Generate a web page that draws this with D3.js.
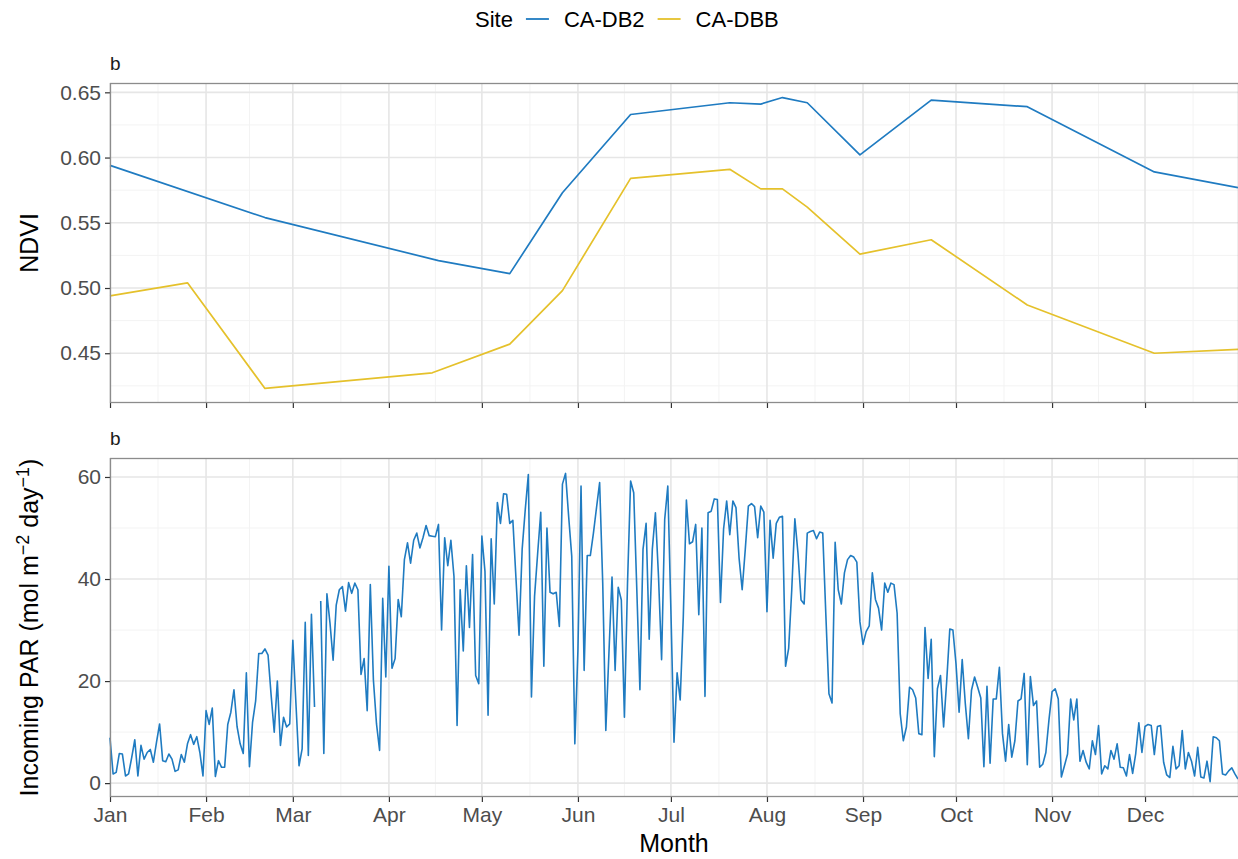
<!DOCTYPE html>
<html>
<head>
<meta charset="utf-8">
<script src="https://cdn.jsdelivr.net/npm/d3@7"></script>
<style>
  body { margin: 0; background: #fff; }
  svg { display: block; font-family: "Liberation Sans", Arial, Helvetica, sans-serif; }
</style>
</head>
<body>
<svg id="chart" width="1238" height="859"></svg>
<script>
// ---- data -------------------------------------------------------------
const monthLabels = ["Jan", "Feb", "Mar", "Apr", "May", "Jun", "Jul", "Aug", "Sep", "Oct", "Nov", "Dec"];
const siteNames = ["CA-DB2", "CA-DBB"];
const siteColors = ["#1f7bc1", "#e5c12b"];

// NDVI composites, CA-DB2
const db2Dates = ["2019-01-01", "2019-02-20", "2019-04-17", "2019-05-10", "2019-05-27", "2019-06-18",
  "2019-07-20", "2019-07-30", "2019-08-06", "2019-08-14", "2019-08-31", "2019-09-23", "2019-10-24",
  "2019-12-04", "2019-12-31"];
const db2Ndvi = [0.594, 0.554, 0.521, 0.511, 0.573, 0.633, 0.642, 0.641, 0.646, 0.642, 0.602, 0.644,
  0.639, 0.589, 0.577];

// NDVI composites, CA-DBB
const dbbDates = ["2019-01-01", "2019-01-26", "2019-02-20", "2019-04-15", "2019-05-10", "2019-05-27",
  "2019-06-18", "2019-07-20", "2019-07-30", "2019-08-06", "2019-08-14", "2019-08-31", "2019-09-23",
  "2019-10-24", "2019-12-04", "2019-12-31"];
const dbbNdvi = [0.494, 0.504, 0.423, 0.435, 0.457, 0.498, 0.584, 0.591, 0.576, 0.576, 0.562, 0.526,
  0.537, 0.487, 0.450, 0.453];

const ndviTicks = [0.45, 0.50, 0.55, 0.60, 0.65];
const parTicks = [0, 20, 40, 60];

// Daily incoming PAR (mol m-2 day-1), CA-DB2, one value per day from 1 Jan (null = missing day)
const parStart = "2019-01-01";
const parDaily = [
  8.9, 1.8, 2.1, 5.8, 5.7, 1.4, 1.8, 5.0, 8.5, 1.4,
  7.4, 4.7, 6.0, 6.6, 4.1, 8.0, 11.6, 4.4, 4.2, 5.7,
  4.7, 2.3, 2.6, 5.6, 4.1, 7.7, 9.5, 7.6, 9.1, 6.0,
  1.4, 14.2, 11.5, 14.7, 1.3, 4.4, 3.1, 3.1, 11.5, 13.9,
  18.3, 11.1, 7.7, 5.8, 21.6, 3.2, 11.9, 16.1, 25.4, 25.4,
  26.3, 25.1, 17.2, 10.0, 20.0, 7.4, 12.9, 11.0, 11.6, 28.0,
  15.6, 3.4, 6.7, 31.5, 5.4, 33.1, 14.9, null, 35.7, 5.8,
  37.1, 31.3, 24.1, 34.9, 37.9, 38.5, 33.7, 39.3, 37.2, 39.2,
  37.9, 21.3, 24.4, 14.2, 38.9, 20.2, 11.6, 6.4, 36.2, 20.8,
  42.5, 22.5, 24.4, 36.0, 32.6, 43.8, 47.1, 43.1, 47.6, 49.0,
  46.1, 48.1, 50.5, 48.5, 48.4, 48.3, 50.7, 30.0, 48.1, 42.6,
  47.6, 40.5, 11.3, 37.9, 25.9, 42.6, 30.5, 44.8, 21.1, 19.5,
  48.4, 41.5, 13.3, 47.9, 35.1, 55.0, 50.9, 56.7, 56.6, 50.9,
  51.5, 40.2, 29.0, 45.8, 53.6, 60.5, 16.9, 36.6, 45.0, 53.1,
  22.9, 50.0, 37.4, 37.1, 37.4, 30.7, 58.6, 60.7, 52.3, 44.5,
  7.7, 26.1, 58.2, 22.1, 44.6, 44.6, 49.0, 54.0, 58.9, 39.2,
  10.3, 25.4, 40.4, 22.1, 38.4, 35.9, 12.9, 39.2, 59.2, 56.9,
  37.9, 18.3, 45.8, 50.9, 28.2, 45.8, 53.0, 40.5, 24.2, 51.7,
  58.2, 33.9, 8.0, 21.6, 16.3, 32.6, 55.5, 46.9, 47.3, 50.7,
  33.0, 50.0, 17.0, 53.0, 53.3, 55.7, 55.6, 35.4, 49.8, 55.3,
  48.7, 55.3, 54.0, 44.1, 37.9, 45.8, 54.3, 54.8, 54.2, 48.1,
  54.3, 53.1, 33.6, 51.5, 44.1, 50.9, 52.1, 52.3, 22.9, 26.4,
  37.9, 51.8, 45.1, 35.9, 35.1, 49.0, 49.3, 49.5, 47.9, 49.2,
  49.0, 33.0, 17.5, 15.7, 47.2, 37.9, 35.1, 41.2, 43.8, 44.6,
  44.3, 43.3, 31.6, 27.2, 29.7, 30.8, 41.2, 36.0, 34.3, 30.0,
  39.2, 37.4, 39.2, 38.9, 33.3, 13.6, 8.3, 11.0, 18.8, 18.3,
  16.7, 9.7, 9.5, 30.5, 20.5, 28.2, 5.2, 18.5, 21.1, 11.0,
  20.0, 30.2, 30.0, 23.4, 13.9, 24.2, 15.6, 8.7, 18.2, 20.8,
  18.8, 16.7, 3.2, 19.0, 3.9, 16.5, 16.5, 22.7, 9.7, 4.3,
  11.5, 5.1, 8.3, 16.1, 16.5, 21.5, 3.6, 20.9, 15.2, 16.1,
  3.1, 3.7, 6.0, 12.4, 17.9, 18.5, 16.5, 1.2, 3.4, 5.7,
  16.5, 12.4, 16.5, 4.3, 6.4, 4.1, 2.8, 8.3, 5.6, 11.3,
  1.8, 3.4, 2.8, 6.4, 4.7, 7.7, 3.1, 3.0, 1.4, 5.6,
  1.9, 5.8, 11.8, 6.0, 11.1, 11.5, 11.3, 5.6, 11.1, 11.3,
  4.1, 1.6, 1.1, 7.2, 2.8, 3.4, 10.3, 2.8, 6.0, 4.3,
  1.4, 7.0, 1.2, 1.0, 4.3, 0.3, 9.1, 8.9, 8.3, 1.8,
  1.6, 2.4, 3.0, 1.8, 0.8
];

// ---- layout -------------------------------------------------------------
const W = 1238, H = 859;
const plotLeft = 110, plotRight = 1238;
const panels = {
  ndvi: { top: 83, bottom: 403 },
  par: { top: 458, bottom: 797 }
};
const tickColor = "#4d4d4d";
const gridMajor = "#e6e6e6";
const gridMinor = "#f3f3f3";
const borderColor = "#8c8c8c";

const svg = d3.select("#chart");
const parseDate = d3.utcParse("%Y-%m-%d");

const year0 = parseDate("2019-01-01");
const yearEnd = parseDate("2019-12-31");
const x = d3.scaleUtc().domain([year0, yearEnd]).range([plotLeft, plotRight]);

const monthStarts = d3.utcMonths(year0, d3.utcDay.offset(yearEnd, 1));
const monthMinor = monthStarts.map(m => new Date((+m + +d3.utcMonth.offset(m, 1)) / 2))
  .filter(d => d <= yearEnd);

function padded(ext) {
  const r = ext[1] - ext[0];
  return [ext[0] - 0.05 * r, ext[1] + 0.05 * r];
}

const ndviSeries = [
  { name: siteNames[0], color: siteColors[0], pts: db2Dates.map((d, i) => ({ date: parseDate(d), v: db2Ndvi[i] })) },
  { name: siteNames[1], color: siteColors[1], pts: dbbDates.map((d, i) => ({ date: parseDate(d), v: dbbNdvi[i] })) }
];
const parPts = parDaily.map((v, i) => ({ date: d3.utcDay.offset(parseDate(parStart), i), v }));

const yNdvi = d3.scaleLinear()
  .domain(padded(d3.extent(db2Ndvi.concat(dbbNdvi))))
  .range([panels.ndvi.bottom, panels.ndvi.top]);
const yPar = d3.scaleLinear()
  .domain(padded(d3.extent(parDaily.filter(v => v != null))))
  .range([panels.par.bottom, panels.par.top]);

function minorOf(ticks, scale) {
  const step = ticks[1] - ticks[0];
  const dom = scale.domain();
  const out = [];
  for (let t = ticks[0] - step / 2; t <= ticks[ticks.length - 1] + step; t += step) {
    if (t >= dom[0] && t <= dom[1]) out.push(t);
  }
  return out;
}

function drawPanel(p, y, yTicks, yFmt, showXLabels) {
  const g = svg.append("g");
  // background
  g.append("rect").attr("x", plotLeft).attr("y", p.top)
    .attr("width", plotRight - plotLeft).attr("height", p.bottom - p.top).attr("fill", "#fff");

  // minor grid
  g.selectAll(null).data(minorOf(yTicks, y)).join("line")
    .attr("x1", plotLeft).attr("x2", plotRight)
    .attr("y1", d => y(d)).attr("y2", d => y(d))
    .attr("stroke", gridMinor).attr("stroke-width", 1);
  g.selectAll(null).data(monthMinor).join("line")
    .attr("x1", d => x(d)).attr("x2", d => x(d))
    .attr("y1", p.top).attr("y2", p.bottom)
    .attr("stroke", gridMinor).attr("stroke-width", 1);

  // major grid
  g.selectAll(null).data(yTicks).join("line")
    .attr("x1", plotLeft).attr("x2", plotRight)
    .attr("y1", d => y(d)).attr("y2", d => y(d))
    .attr("stroke", gridMajor).attr("stroke-width", 1.6);
  g.selectAll(null).data(monthStarts).join("line")
    .attr("x1", d => x(d)).attr("x2", d => x(d))
    .attr("y1", p.top).attr("y2", p.bottom)
    .attr("stroke", gridMajor).attr("stroke-width", 1.6);

  // axes
  const yAxis = d3.axisLeft(y).tickValues(yTicks).tickFormat(yFmt).tickSize(5).tickPadding(4);
  const ya = svg.append("g").attr("transform", `translate(${plotLeft},0)`).call(yAxis);
  ya.select(".domain").remove();
  ya.selectAll(".tick line").attr("stroke", "#333").attr("stroke-width", 1.2);
  ya.selectAll(".tick text").attr("fill", tickColor).attr("font-size", 21)
    .attr("font-family", "Liberation Sans, Arial, sans-serif");

  const xAxis = d3.axisBottom(x).tickValues(monthStarts)
    .tickFormat((d, i) => showXLabels ? monthLabels[i] : "").tickSize(5).tickPadding(5);
  const xa = svg.append("g").attr("transform", `translate(0,${p.bottom})`).call(xAxis);
  xa.select(".domain").remove();
  xa.selectAll(".tick line").attr("stroke", "#333").attr("stroke-width", 1.2);
  xa.selectAll(".tick text").attr("fill", tickColor).attr("font-size", 21)
    .attr("font-family", "Liberation Sans, Arial, sans-serif");

  return g;
}

function drawBorder(p) {
  svg.append("rect").attr("x", plotLeft + 0.5).attr("y", p.top + 0.5)
    .attr("width", plotRight - plotLeft).attr("height", p.bottom - p.top - 1)
    .attr("fill", "none").attr("stroke", borderColor).attr("stroke-width", 1.3);
}

// ---- top panel: NDVI ------------------------------------------------------
const gN = drawPanel(panels.ndvi, yNdvi, ndviTicks, d3.format(".2f"), false);
const lineN = d3.line().x(d => x(d.date)).y(d => yNdvi(d.v));
gN.selectAll(null).data(ndviSeries).join("path")
  .attr("d", s => lineN(s.pts))
  .attr("fill", "none").attr("stroke", s => s.color).attr("stroke-width", 1.7)
  .attr("stroke-linejoin", "round");
drawBorder(panels.ndvi);

// ---- bottom panel: PAR ----------------------------------------------------
const gP = drawPanel(panels.par, yPar, parTicks, d3.format("d"), true);
const lineP = d3.line().defined(d => d.v != null).x(d => x(d.date)).y(d => yPar(d.v));
gP.append("path").datum(parPts)
  .attr("d", lineP)
  .attr("fill", "none").attr("stroke", siteColors[0]).attr("stroke-width", 1.6)
  .attr("stroke-linejoin", "round");
drawBorder(panels.par);

// ---- strip labels -------------------------------------------------------
svg.append("text").attr("x", plotLeft).attr("y", 70).attr("font-size", 19).attr("fill", "#1a1a1a").text("b");
svg.append("text").attr("x", plotLeft).attr("y", 445).attr("font-size", 19).attr("fill", "#1a1a1a").text("b");

// ---- axis titles ----------------------------------------------------------
const midN = (panels.ndvi.top + panels.ndvi.bottom) / 2;
svg.append("text").attr("transform", `translate(38,${midN}) rotate(-90)`)
  .attr("text-anchor", "middle").attr("font-size", 25).attr("fill", "#000").text("NDVI");

const midP = (panels.par.top + panels.par.bottom) / 2;
const parTitle = svg.append("text").attr("transform", `translate(38,${midP}) rotate(-90)`)
  .attr("text-anchor", "middle").attr("font-size", 25).attr("fill", "#000");
parTitle.append("tspan").text("Incoming PAR (mol m");
parTitle.append("tspan").attr("dy", -9).attr("font-size", 18).text("\u22122");
parTitle.append("tspan").attr("dy", 9).text(" day");
parTitle.append("tspan").attr("dy", -9).attr("font-size", 18).text("\u22121");
parTitle.append("tspan").attr("dy", 9).text(")");

svg.append("text").attr("x", (plotLeft + plotRight) / 2).attr("y", 852)
  .attr("text-anchor", "middle").attr("font-size", 25).attr("fill", "#000").text("Month");

// ---- legend -----------------------------------------------------------------
const leg = svg.append("g").attr("font-size", 22).attr("fill", "#000");
let lx = 475;
const ly = 27;
const tTitle = leg.append("text").attr("x", lx).attr("y", ly).text("Site");
lx += tTitle.node().getComputedTextLength() + 13;
siteNames.forEach((name, i) => {
  leg.append("line").attr("x1", lx).attr("x2", lx + 23).attr("y1", ly - 8).attr("y2", ly - 8)
    .attr("stroke", siteColors[i]).attr("stroke-width", 1.8);
  lx += 23 + 15;
  const t = leg.append("text").attr("x", lx).attr("y", ly).text(name);
  lx += t.node().getComputedTextLength() + 13;
});
</script>
</body>
</html>
